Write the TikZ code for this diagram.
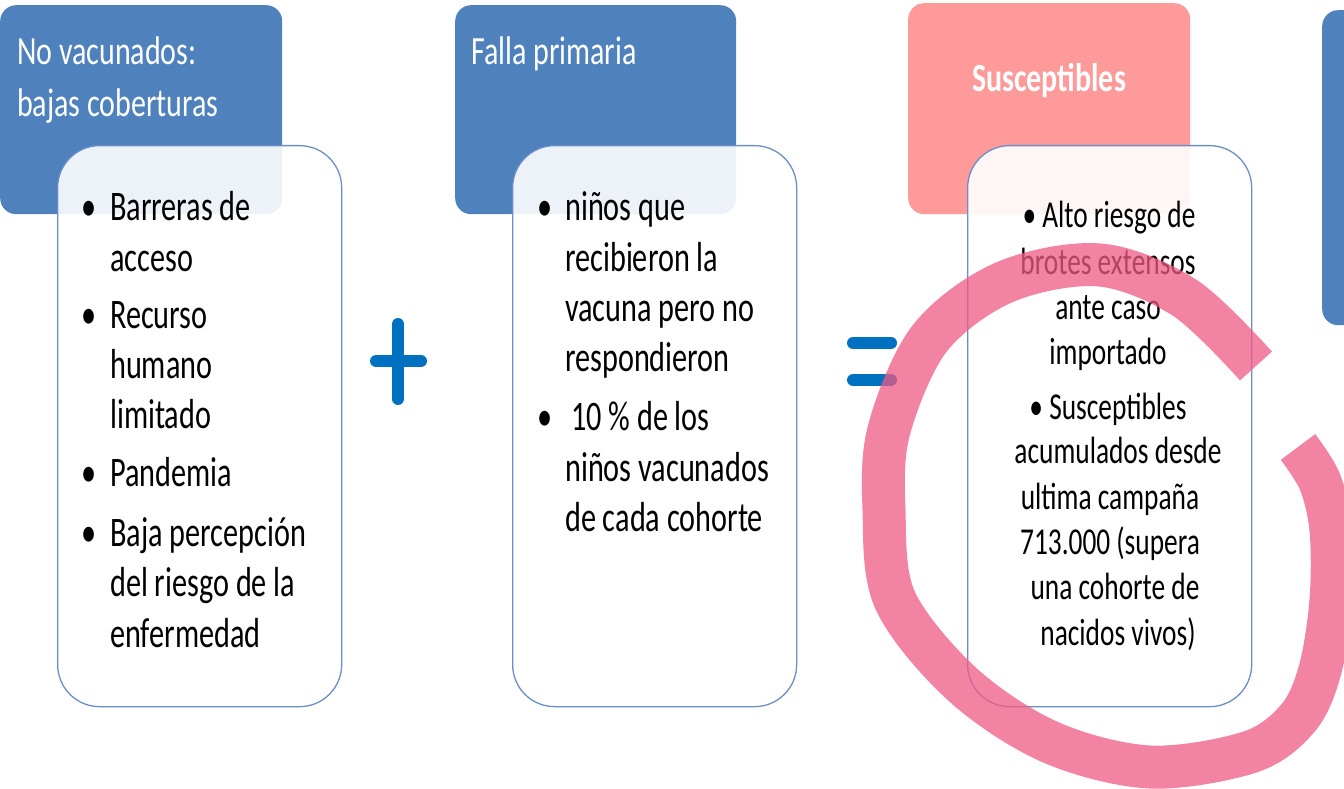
\documentclass[tikz,border=0pt]{standalone}
\usepackage{fontspec}
\setmainfont{Carlito}[FakeStretch=0.72]
\newfontfamily\hfont{Carlito}[FakeStretch=0.75]
\definecolor{hblue}{HTML}{4F81BD}
\definecolor{hpink}{HTML}{FE9A9A}
\definecolor{signblue}{HTML}{0070C0}
\definecolor{penpink}{RGB}{240,90,131}
\definecolor{edgeblue}{HTML}{6A8FC8}
\begin{document}
\begin{tikzpicture}[x=1pt,y=-1pt,
 header/.style={fill=#1, draw=none, rounded corners=16pt, anchor=north west, inner sep=0pt},
 body/.style={fill=white, fill opacity=0.9, draw=edgeblue, draw opacity=1, line width=1.3pt, rounded corners=42pt, anchor=north west, inner sep=0pt, minimum width=284pt, minimum height=561pt},
 htext/.style={text=white, font=\hfont\fontsize{40}{48}\selectfont, anchor=base west, inner sep=0pt},
 ltext/.style={text=black, font=\fontsize{42}{50}\selectfont, anchor=base west, inner sep=0pt},
 bul/.style={ltext, anchor=base},
 ctext/.style={text=black, font=\fontsize{38}{46}\selectfont, anchor=base, inner sep=0pt},
 sig/.style={draw=signblue, line width=12pt, line cap=round},
 pen/.style={draw=penpink, draw opacity=0.75, line width=43pt, line cap=butt, line join=round},
]
\useasboundingbox (0,0) rectangle (1344,789);
\clip (0,0) rectangle (1344,789);
\fill[white] (0,0) rectangle (1344,789);

% headers
\node[header=hblue, minimum width=282pt, minimum height=209pt] (h1) at (0,5) {};
\node[header=hblue, minimum width=281pt, minimum height=209pt] (h2) at (455,5) {};
\node[header=hpink, minimum width=282pt, minimum height=211pt] (h3) at (908,3) {};
\node[header=hblue, minimum width=100pt, minimum height=315pt] (h4) at (1322,10) {};

\node[htext] (h1a) at (17,65) {No vacunados:};
\node[htext] (h1b) at (17,117) {bajas coberturas};
\node[htext] (h2a) at (471,65) {Falla primaria};
\node[htext, anchor=base, font=\hfont\fontsize{40}{48}\selectfont\bfseries] (h3a) at (1049,92) {Susceptibles};

% bodies
\node[body] (b1) at (57,145) {};
\node[body] (b2) at (512,145) {};
\node[body] (b3) at (967,145) {};

% body 1
\node[bul] (b1u1) at (89,220) {•};
\node[ltext] (b1l1) at (110,220) {Barreras de};
\node[ltext] (b1l2) at (110,271) {acceso};
\node[bul] (b1u2) at (89,328) {•};
\node[ltext] (b1l3) at (110,328) {Recurso};
\node[ltext] (b1l4) at (110,378) {humano};
\node[ltext] (b1l5) at (110,428) {limitado};
\node[bul] (b1u3) at (89,486) {•};
\node[ltext] (b1l6) at (110,486) {Pandemia};
\node[bul] (b1u4) at (89,546) {•};
\node[ltext] (b1l7) at (110,546) {Baja percepción};
\node[ltext] (b1l8) at (110,596) {del riesgo de la};
\node[ltext] (b1l9) at (110,647) {enfermedad};

% body 2
\node[bul] (b2u1) at (545,220) {•};
\node[ltext] (b2l1) at (565,220) {niños que};
\node[ltext] (b2l2) at (565,271) {recibieron la};
\node[ltext] (b2l3) at (565,321) {vacuna pero no};
\node[ltext] (b2l4) at (565,371) {respondieron};
\node[bul] (b2u2) at (545,430) {•};
\node[ltext] (b2l5) at (571,430) {10 \% de los};
\node[ltext] (b2l6) at (565,481) {niños vacunados};
\node[ltext] (b2l7) at (565,531) {de cada cohorte};

% body 3
\node[ctext] (b3l1) at (1109,227) {• Alto riesgo de};
\node[ctext] (b3l2) at (1108,274) {brotes extensos};
\node[ctext] (b3l3) at (1108,319) {ante caso};
\node[ctext] (b3l4) at (1108,364) {importado};
\node[ctext] (b3l5) at (1108,419) {• Susceptibles};
\node[ctext] (b3l6) at (1118,463) {acumulados desde};
\node[ctext] (b3l7) at (1110,509) {ultima campaña};
\node[ctext] (b3l8) at (1110,554) {713.000 (supera};
\node[ctext] (b3l9) at (1115,599) {una cohorte de};
\node[ctext] (b3l10) at (1118,645) {nacidos vivos)};

% signs
\draw[sig] (398,324) -- (398,399);
\draw[sig] (376,361) -- (421,361);
\draw[sig] (853,343) -- (891,343);
\draw[sig] (853,380) -- (891,380);

% hand-drawn circle
\draw[pen] plot[smooth, tension=0.55] coordinates {
 (1256,366) (1185,298) (1100,265) (1005,282) (930,338) (889,430)
 (884,510) (895,600) (962,684) (1050,742) (1150,767) (1250,752)
 (1298,718) (1320,670) (1331,600) (1331,530) (1320,482) (1298,447)};
\end{tikzpicture}
\end{document}
